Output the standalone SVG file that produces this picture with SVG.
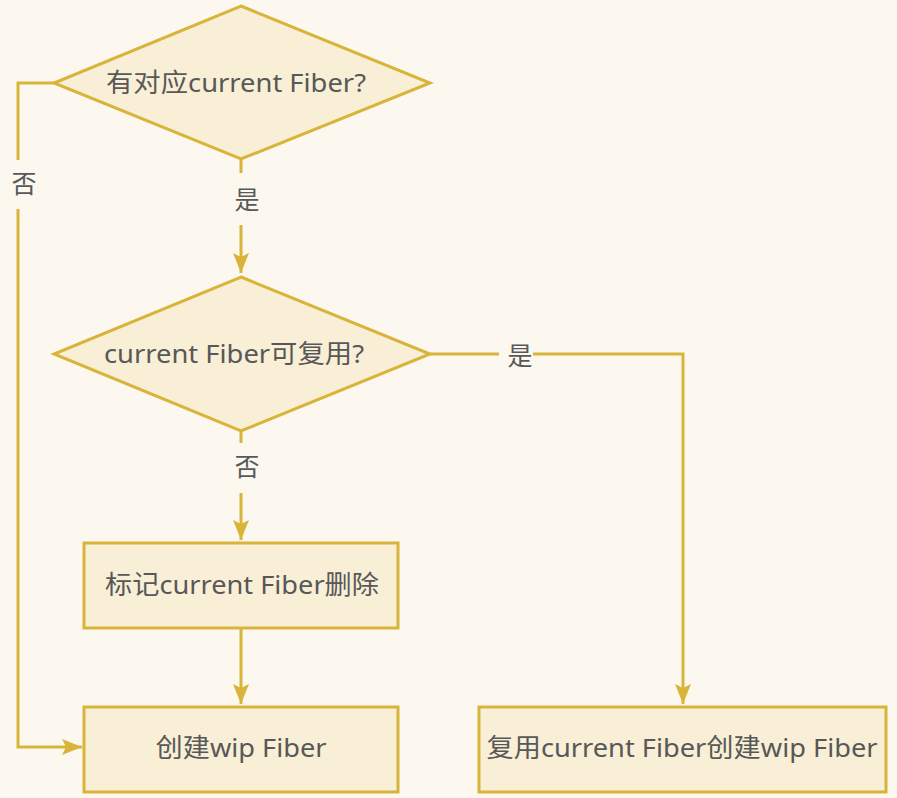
<svg xmlns="http://www.w3.org/2000/svg" width="897" height="798" viewBox="0 0 897 798">
<style>
.node{fill:#f8efd6;stroke:#d9b43a;stroke-width:3}
.edge{fill:none;stroke:#d9b43a;stroke-width:3}
.t{font-family:"Noto Sans","Liberation Sans","Noto Sans CJK SC",sans-serif;font-size:26px;fill:#585858;text-anchor:middle}
.lbl{font-family:"Noto Sans","Liberation Sans","Noto Sans CJK SC",sans-serif;font-size:25px;fill:#585858;text-anchor:middle}
.bg{fill:#fcf8ef}
</style>
<defs>
<marker id="arr" viewBox="0 0 20 16" refX="20" refY="8" markerWidth="20" markerHeight="16" markerUnits="userSpaceOnUse" orient="auto">
<path d="M0,0 L20,8 L0,16 L4,8 Z" fill="#d9b43a"/>
</marker>
</defs>
<rect width="897" height="798" fill="#fcf8ef"/>
<g id="connectors">
<path class="edge" d="M241,159 V273" marker-end="url(#arr)"/>
<path class="edge" d="M54,83 H18 V747 H82" marker-end="url(#arr)"/>
<path class="edge" d="M430,354 H683 V704" marker-end="url(#arr)"/>
<path class="edge" d="M241,431 V540" marker-end="url(#arr)"/>
<path class="edge" d="M241,628 V704" marker-end="url(#arr)"/>
<rect class="bg" x="228" y="173" width="32" height="52"/>
<text class="lbl" x="247" y="209">是</text>
<rect class="bg" x="8" y="160" width="32" height="49"/>
<text class="lbl" x="24" y="193">否</text>
<rect class="bg" x="499" y="340" width="34" height="30"/>
<text class="lbl" x="520" y="365">是</text>
<rect class="bg" x="228" y="443" width="32" height="50"/>
<text class="lbl" x="247" y="476">否</text>
</g>
<g id="d1">
<polygon class="node" points="241,6 430,83 241,159 54,83"/>
<text class="t" x="236" y="92" textLength="260" lengthAdjust="spacingAndGlyphs">有对应current Fiber?</text>
</g>
<g id="d2">
<polygon class="node" points="241,277 430,354 241,431 54,354"/>
<text class="t" x="234" y="363" textLength="260" lengthAdjust="spacingAndGlyphs">current Fiber可复用?</text>
</g>
<g id="r1">
<rect class="node" x="84" y="543" width="314" height="85"/>
<text class="t" x="242" y="594" textLength="274" lengthAdjust="spacingAndGlyphs">标记current Fiber删除</text>
</g>
<g id="r2">
<rect class="node" x="84" y="707" width="314" height="85"/>
<text class="t" x="241" y="757" textLength="171" lengthAdjust="spacingAndGlyphs">创建wip Fiber</text>
</g>
<g id="r3">
<rect class="node" x="479" y="707" width="407" height="85"/>
<text class="t" x="682" y="757" textLength="391" lengthAdjust="spacingAndGlyphs">复用current Fiber创建wip Fiber</text>
</g>
</svg>
